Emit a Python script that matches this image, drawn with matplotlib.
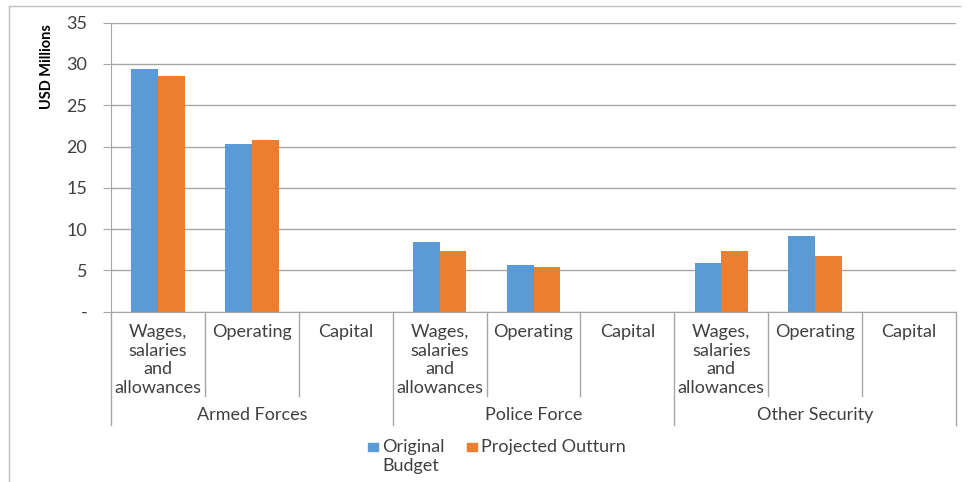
import matplotlib
matplotlib.use("Agg")
import matplotlib.pyplot as plt
import matplotlib.transforms as mtransforms
from matplotlib.lines import Line2D
from matplotlib.patches import Rectangle
import numpy as np

plt.rcParams['font.family'] = ['Lato', 'DejaVu Sans']

# data
groups = ["Armed Forces", "Police Force", "Other Security"]
items = ["Wages,\nsalaries\nand\nallowances", "Operating", "Capital"]
series_names = ["Original\nBudget", "Projected Outturn"]
original_budget = [29.4, 20.3, 0.0, 8.4, 5.6, 0.0, 5.9, 9.2, 0.0]
projected_outturn = [28.6, 20.8, 0.0, 7.3, 5.4, 0.0, 7.3, 6.8, 0.0]
yticks = [0, 5, 10, 15, 20, 25, 30, 35]
ytick_labels = ["-", "5", "10", "15", "20", "25", "30", "35"]

blue = "#5B9BD5"
orange = "#ED7D31"
grid_c = "#A6A6A6"
text_c = "#404040"
fs = 13

W, H = 967, 482
fig = plt.figure(figsize=(W / 100, H / 100), dpi=100)
ax = fig.add_axes([111 / W, (H - 311.7) / H, 845 / W, 289 / H])

n = len(original_budget)
x = np.arange(n)
bw = 0.285
ax.bar(x - bw / 2, original_budget, bw, color=blue, zorder=3)
ax.bar(x + bw / 2, projected_outturn, bw, color=orange, zorder=3)

ax.set_xlim(-0.5, n - 0.5)
ax.set_ylim(0, 35)
ax.set_yticks(yticks)
ax.set_yticklabels(ytick_labels, fontsize=fs, color=text_c)
ax.yaxis.grid(True, color=grid_c, linewidth=1)
ax.set_axisbelow(True)
ax.tick_params(axis='y', length=6, color=grid_c, pad=11)
ax.tick_params(axis='x', length=0, labelbottom=False)
for s in ["top", "right"]:
    ax.spines[s].set_visible(False)
for s in ["left", "bottom"]:
    ax.spines[s].set_color(grid_c)

fig.text(46.7 / W, 1 - 67 / H, "USD Millions", rotation=90, fontsize=10.5,
         fontweight='bold', ha='center', va='center', color="#000000")

# multi-level category axis
tr = mtransforms.blended_transform_factory(ax.transData, fig.transFigure)
for i in range(n + 1):
    bottom = 425 if i % 3 == 0 else 396
    ax.add_line(Line2D([i - 0.5, i - 0.5], [1 - 311.7 / H, 1 - bottom / H],
                       transform=tr, color=grid_c, linewidth=1, clip_on=False))
for i in range(n):
    ax.text(i, 1 - 324 / H, items[i % 3], transform=tr, ha='center', va='top',
            fontsize=fs, color=text_c, linespacing=1.2)
for g, name in enumerate(groups):
    ax.text(3 * g + 1, 1 - 415 / H, name, transform=tr, ha='center', va='center',
            fontsize=fs, color=text_c)

# legend below the category axis
for col, name, x0 in [(blue, series_names[0], 368), (orange, series_names[1], 467)]:
    fig.add_artist(Rectangle((x0 / W, 1 - 451 / H), 10 / W, 8 / H,
                             transform=fig.transFigure, color=col))
    fig.text((x0 + 14) / W, 1 - 439 / H, name, ha='left', va='top',
             fontsize=fs, color=text_c, linespacing=1.2)

# outer chart frame (only the top and left edges are visible in the crop)
fig.add_artist(Line2D([9 / W, 960 / W], [1 - 6 / H, 1 - 6 / H], color="#BFBFBF", linewidth=1))
fig.add_artist(Line2D([9 / W, 9 / W], [1 - 6 / H, 0], color="#BFBFBF", linewidth=1))

fig.savefig("out.png", dpi=100)
